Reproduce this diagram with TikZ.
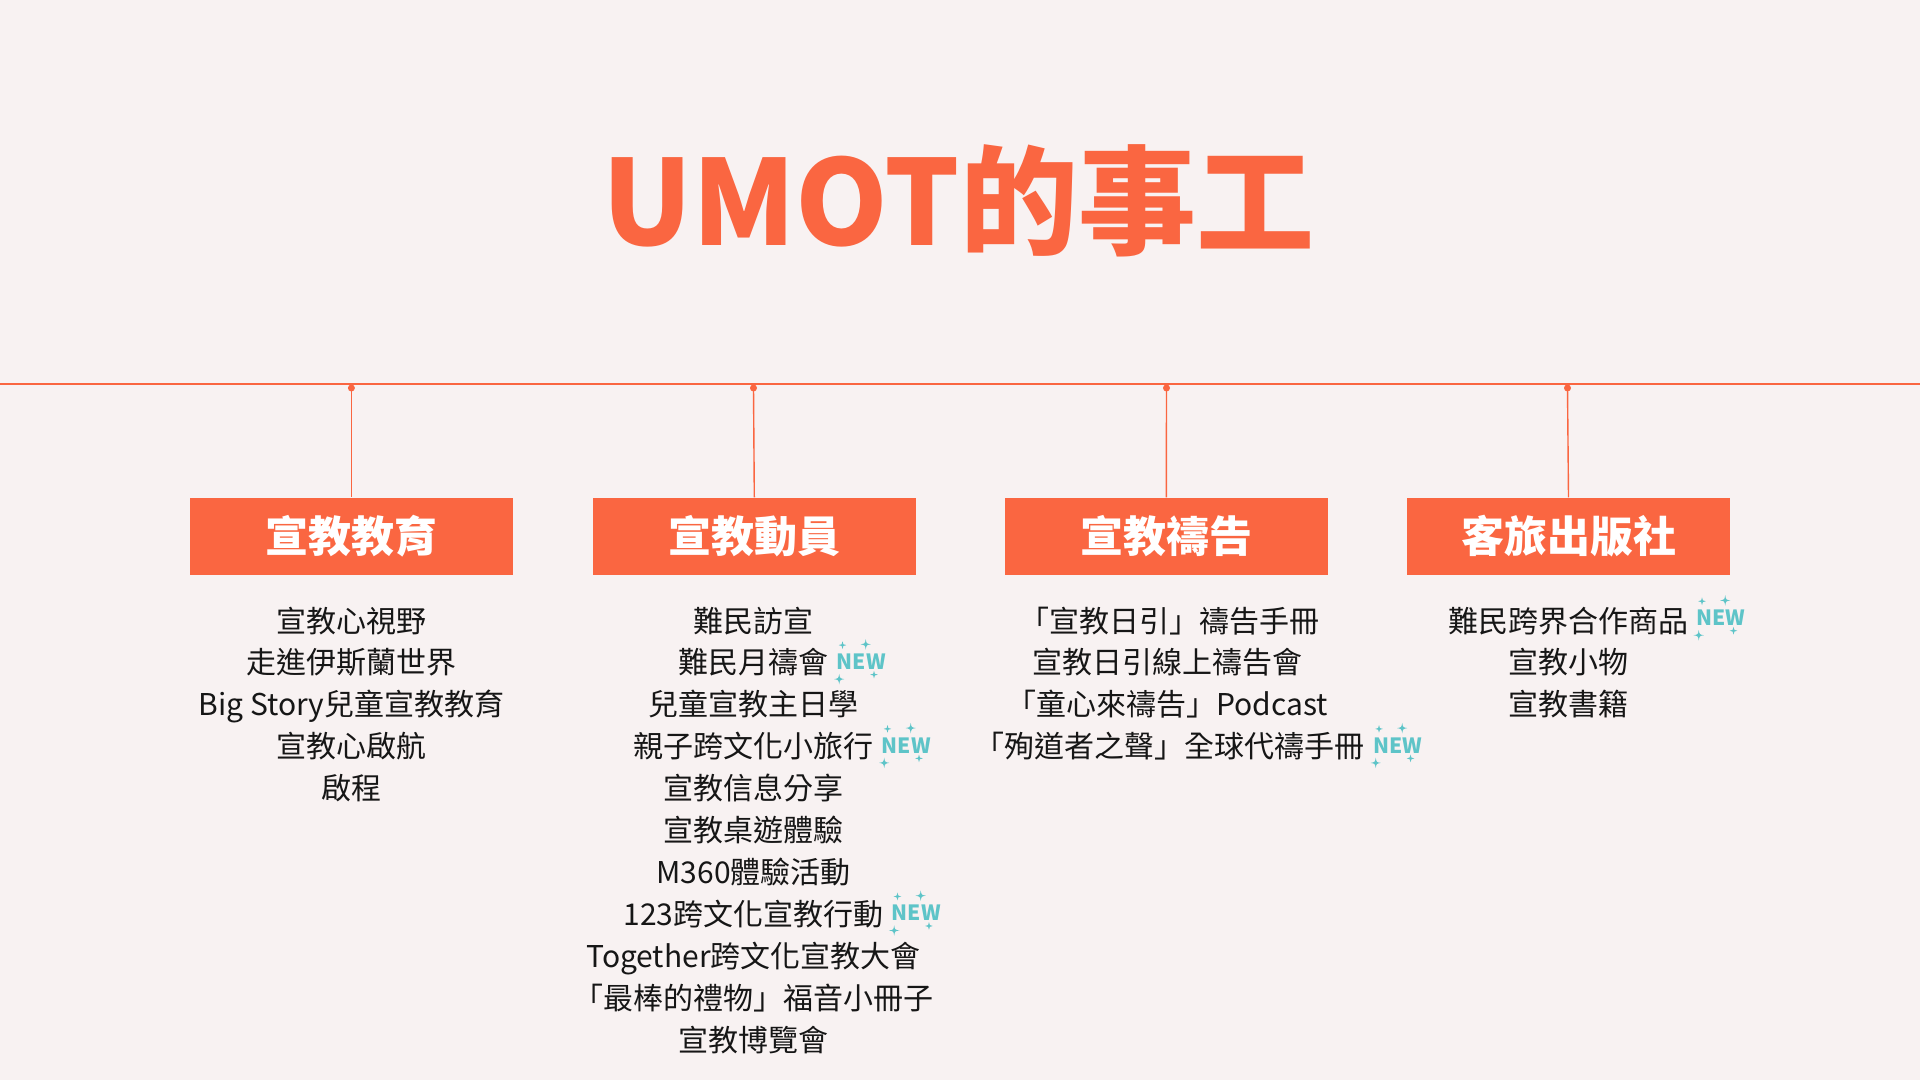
\documentclass[tikz,border=0pt]{standalone}
\usepackage{fontspec}
\setmainfont{Noto Sans CJK TC}
\definecolor{bg}{RGB}{248,242,242}
\definecolor{umorange}{RGB}{250,102,65}
\definecolor{newteal}{RGB}{94,196,200}
\definecolor{ink}{RGB}{22,22,22}
\tikzset{
  item/.style={anchor=base, font=\fontsize{30}{30}\selectfont, text=ink, inner sep=0pt},
  catbox/.style={fill=umorange, text=white, minimum width=323pt, minimum height=77pt, inner sep=0pt,
    font=\fontsize{43}{43}\selectfont\bfseries},
  dotnode/.style={circle, fill=umorange, minimum size=7pt, inner sep=0pt},
  conn/.style={umorange, line width=1.4pt},
  newtag/.style={anchor=west, inner sep=0pt, text=newteal, font=\fontsize{21}{21}\selectfont\bfseries},
  sparkle/.pic={\fill[newteal] (0,-1) .. controls (0.14,-0.14) .. (1,0) .. controls (0.14,0.14) .. (0,1)
     .. controls (-0.14,0.14) .. (-1,0) .. controls (-0.14,-0.14) .. (0,-1) -- cycle;},
  newbadge/.pic={
    \node[newtag] (txt) at (0,0) {NEW};
    \pic[scale=3.8] at (5.8,-16.4) {sparkle};
    \pic[scale=5.2] at (29,-17.2) {sparkle};
    \pic[scale=5.2] at (2.5,17.6) {sparkle};
    \pic[scale=3.8] at (37.3,13.1) {sparkle};
  }
}
\begin{document}
\begin{tikzpicture}[x=1pt,y=-1pt]
\fill[bg] (0,0) rectangle (1920,1080);
\useasboundingbox (0,0) rectangle (1920,1080);

% title
\node[anchor=base, inner sep=0pt, text=umorange, font=\fontsize{118}{118}\selectfont\bfseries] (title) at (958,245) {UMOT的事工};

% timeline
\coordinate (hl) at (0,384);
\coordinate (hr) at (1920,384);
\draw[umorange, line width=2.6pt] (hl) -- (hr);

% category boxes
\node[catbox] (c1) at (351.4,536) {宣教教育};
\node[catbox] (c2) at (754.3,536) {宣教動員};
\node[catbox] (c3) at (1166.3,536) {宣教禱告};
\node[catbox] (c4) at (1568.5,536) {客旅出版社};

\node[dotnode] (d1) at (351.4,388) {};
\node[dotnode] (d2) at (753.5,388) {};
\node[dotnode] (d3) at (1166.5,388) {};
\node[dotnode] (d4) at (1567.5,388) {};
\draw[conn] (d1.center) -- (c1.north);
\draw[conn] (d2.center) -- (c2.north);
\draw[conn] (d3.center) -- (c3.north);
\draw[conn] (d4.center) -- (c4.north);

% column 1
\node[item] (i11) at (351.4,632) {宣教心視野};
\node[item] (i12) at (351.4,673.9) {走進伊斯蘭世界};
\node[item] (i13) at (351.4,715.8) {Big Story兒童宣教教育};
\node[item] (i14) at (351.4,757.7) {宣教心啟航};
\node[item] (i15) at (351.4,799.6) {啟程};

% column 2
\node[item] (i21) at (753.5,632) {難民訪宣};
\node[item] (i22) at (753.5,673.9) {難民月禱會};
\node[item] (i23) at (753.5,715.8) {兒童宣教主日學};
\node[item] (i24) at (753.5,757.7) {親子跨文化小旅行};
\node[item] (i25) at (753.5,799.6) {宣教信息分享};
\node[item] (i26) at (753.5,841.5) {宣教桌遊體驗};
\node[item] (i27) at (753.5,883.4) {M360體驗活動};
\node[item] (i28) at (753.5,925.3) {123跨文化宣教行動};
\node[item] (i29) at (753.5,967.2) {Together跨文化宣教大會};
\node[item] (i210) at (753.5,1009.1) {「最棒的禮物」福音小冊子};
\node[item] (i211) at (753.5,1051) {宣教博覽會};

% column 3
\node[item] (i31) at (1169,632) {「宣教日引」禱告手冊};
\node[item] (i32) at (1167,673.9) {宣教日引線上禱告會};
\node[item] (i33) at (1167,715.8) {「童心來禱告」Podcast};
\node[item] (i34) at (1169,757.7) {「殉道者之聲」全球代禱手冊};

% column 4
\node[item] (i41) at (1568,632) {難民跨界合作商品};
\node[item] (i42) at (1568,673.9) {宣教小物};
\node[item] (i43) at (1568,715.8) {宣教書籍};

% NEW badges
\coordinate (b22) at ([xshift=8pt,yshift=1pt]i22.east);
\coordinate (b24) at ([xshift=8pt,yshift=1pt]i24.east);
\coordinate (b28) at ([xshift=8pt,yshift=1pt]i28.east);
\coordinate (b34) at ([xshift=9pt,yshift=1pt]i34.east);
\coordinate (b41) at ([xshift=8pt,yshift=3pt]i41.east);
\pic (n22) at (b22) {newbadge};
\pic (n24) at (b24) {newbadge};
\pic (n28) at (b28) {newbadge};
\pic (n34) at (b34) {newbadge};
\pic (n41) at (b41) {newbadge};
\end{tikzpicture}
\end{document}
